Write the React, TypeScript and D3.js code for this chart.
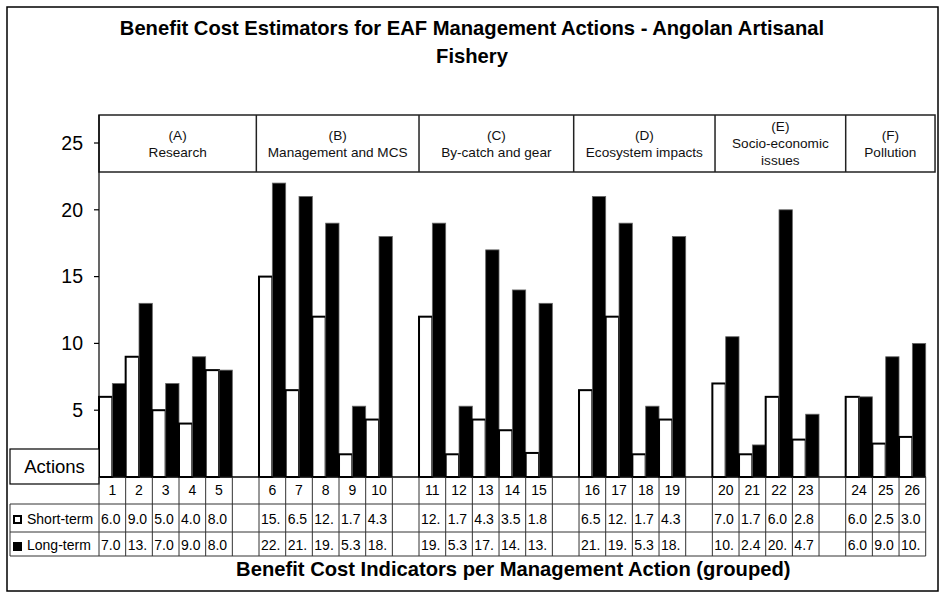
import React from "react";
import * as d3 from "d3";

const titleLines = ["Benefit Cost Estimators for EAF Management Actions - Angolan Artisanal", "Fishery"];
const xTitle = "Benefit Cost Indicators per Management Action (grouped)";
const groupLetters = ["(A)", "(B)", "(C)", "(D)", "(E)", "(F)"];
const groupNames = [["Research"], ["Management and MCS"], ["By-catch and gear"], ["Ecosystem impacts"], ["Socio-economic", "issues"], ["Pollution"]];
const groupSizes = [5, 5, 5, 4, 4, 3];
// header cell edges expressed in category-slot units
const headerEdges = [0, 5.9, 12, 17.8, 23.1, 28, 31.35];
const shortTerm = [6.0, 9.0, 5.0, 4.0, 8.0, 15.0, 6.5, 12.0, 1.7, 4.3, 12.0, 1.7, 4.3, 3.5, 1.8, 6.5, 12.0, 1.7, 4.3, 7.0, 1.7, 6.0, 2.8, 6.0, 2.5, 3.0];
const longTerm = [7.0, 13.0, 7.0, 9.0, 8.0, 22.0, 21.0, 19.0, 5.3, 18.0, 19.0, 5.3, 17.0, 14.0, 13.0, 21.0, 19.0, 5.3, 18.0, 10.5, 2.4, 20.0, 4.7, 6.0, 9.0, 10.0];
const seriesNames = ["Short-term", "Long-term"];
const yTicks = [5, 10, 15, 20, 25];
const yAxisLabel = "Actions";

const FONT = "'Liberation Sans', Arial, Helvetica, sans-serif";

type Slot = { key: string; idx: number | null };

export default function App() {
  const W = 941, H = 593;
  const left = 99, right = 925.7;
  const slots: Slot[] = [];
  let n = 0;
  groupSizes.forEach((g, gi) => {
    for (let i = 0; i < g; i++) { slots.push({ key: String(n + 1), idx: n }); n++; }
    if (gi < groupSizes.length - 1) slots.push({ key: "gap" + gi, idx: null });
  });
  const x = d3.scaleBand<string>().domain(slots.map(s => s.key)).range([left, right]).padding(0);
  const xu = d3.scaleLinear().domain([0, slots.length]).range([left, right]);
  const y = d3.scaleLinear().domain([0, 25]).range([477, 143]);
  const bw = x.bandwidth();
  const y0 = y(0);
  const headerTop = 115, headerBot = 172;
  const row1 = 504, row2 = 532, row3 = 556;
  const legLeft = 10;
  const fmt = (v: number) => d3.format(".1f")(v).slice(0, 3);
  const bounds = d3.range(slots.length + 1).map(i => xu(i));

  return (
    <svg width={W} height={H} style={{ position: "absolute", left: 0, top: 0, background: "#fff" }} fontFamily={FONT}>
      <rect x={0} y={0} width={W} height={H} fill="#fff" />
      <rect x={7} y={7} width={931} height={584} fill="none" stroke="#000" strokeWidth={1.5} />
      {titleLines.map((t, i) => (
        <text key={i} x={472} y={35 + i * 28} textAnchor="middle" fontWeight="bold" fontSize={20.2}>{t}</text>
      ))}

      {/* bars */}
      {slots.filter(s => s.idx !== null).map(s => {
        const i = s.idx as number;
        const x0 = x(s.key) as number;
        return (
          <g key={s.key}>
            <rect x={x0} y={y(shortTerm[i])} width={bw / 2} height={y0 - y(shortTerm[i])} fill="#fff" stroke="#000" strokeWidth={2} />
            <rect x={x0 + bw / 2} y={y(longTerm[i])} width={bw / 2} height={y0 - y(longTerm[i])} fill="#000" stroke="#666" strokeWidth={0.8} />
          </g>
        );
      })}

      {/* header box */}
      <rect x={xu(headerEdges[0])} y={headerTop} width={xu(headerEdges[6]) - xu(headerEdges[0])} height={headerBot - headerTop} fill="#fff" stroke="#222" strokeWidth={1.5} />
      {headerEdges.slice(1, -1).map((e, i) => (
        <line key={i} x1={xu(e)} x2={xu(e)} y1={headerTop} y2={headerBot} stroke="#222" strokeWidth={1.5} />
      ))}
      {groupLetters.map((g, gi) => {
        const lines = [g, ...groupNames[gi]];
        const cx = (xu(headerEdges[gi]) + xu(headerEdges[gi + 1])) / 2;
        const cy = (headerTop + headerBot) / 2;
        return lines.map((t, li) => (
          <text key={gi + "-" + li} x={cx} y={cy + (li - (lines.length - 1) / 2) * 17} dy="0.35em" textAnchor="middle" fontSize={13.6} fill="#111">{t}</text>
        ));
      })}

      {/* y axis */}
      <line x1={left} x2={left} y1={headerTop} y2={y0} stroke="#000" strokeWidth={1.2} />
      {yTicks.map(t => (
        <g key={t}>
          <line x1={left - 5} x2={left} y1={y(t)} y2={y(t)} stroke="#000" strokeWidth={1.2} />
          <text x={left - 16} y={y(t)} dy="0.35em" textAnchor="end" fontSize={19.5}>{t}</text>
        </g>
      ))}
      <line x1={left} x2={right} y1={y0} y2={y0} stroke="#000" strokeWidth={1.5} />

      {/* Actions box */}
      <rect x={legLeft} y={449} width={left - legLeft} height={35} fill="#fff" stroke="#000" strokeWidth={1.2} />
      <text x={(legLeft + left) / 2} y={466.5} dy="0.35em" textAnchor="middle" fontSize={18.5}>{yAxisLabel}</text>

      {/* data table */}
      {bounds.map((b, i) => (
        <line key={i} x1={b} x2={b} y1={y0} y2={row3} stroke="#333" strokeWidth={1} />
      ))}
      <line x1={legLeft} x2={legLeft} y1={row1} y2={row3} stroke="#333" strokeWidth={1} />
      {[row1, row2, row3].map((r, i) => (
        <line key={i} x1={legLeft} x2={right} y1={r} y2={r} stroke="#333" strokeWidth={1} />
      ))}
      {slots.filter(s => s.idx !== null).map(s => {
        const i = s.idx as number;
        const cx = (x(s.key) as number) + bw / 2;
        return (
          <g key={"t" + s.key} fontSize={14}>
            <text x={cx} y={490.5} dy="0.35em" textAnchor="middle">{s.key}</text>
            <text x={(x(s.key) as number) + 2} y={519} dy="0.35em">{fmt(shortTerm[i])}</text>
            <text x={(x(s.key) as number) + 2} y={545} dy="0.35em">{fmt(longTerm[i])}</text>
          </g>
        );
      })}
      {/* legend keys */}
      <rect x={14} y={516} width={7} height={7} fill="#fff" stroke="#000" strokeWidth={2} />
      <text x={27} y={519} dy="0.35em" fontSize={14}>{seriesNames[0]}</text>
      <rect x={13} y={542} width={9} height={9} fill="#000" />
      <text x={27} y={545} dy="0.35em" fontSize={14}>{seriesNames[1]}</text>

      <text x={(left + right) / 2 + 1} y={576} textAnchor="middle" fontWeight="bold" fontSize={20.2}>{xTitle}</text>
    </svg>
  );
}
